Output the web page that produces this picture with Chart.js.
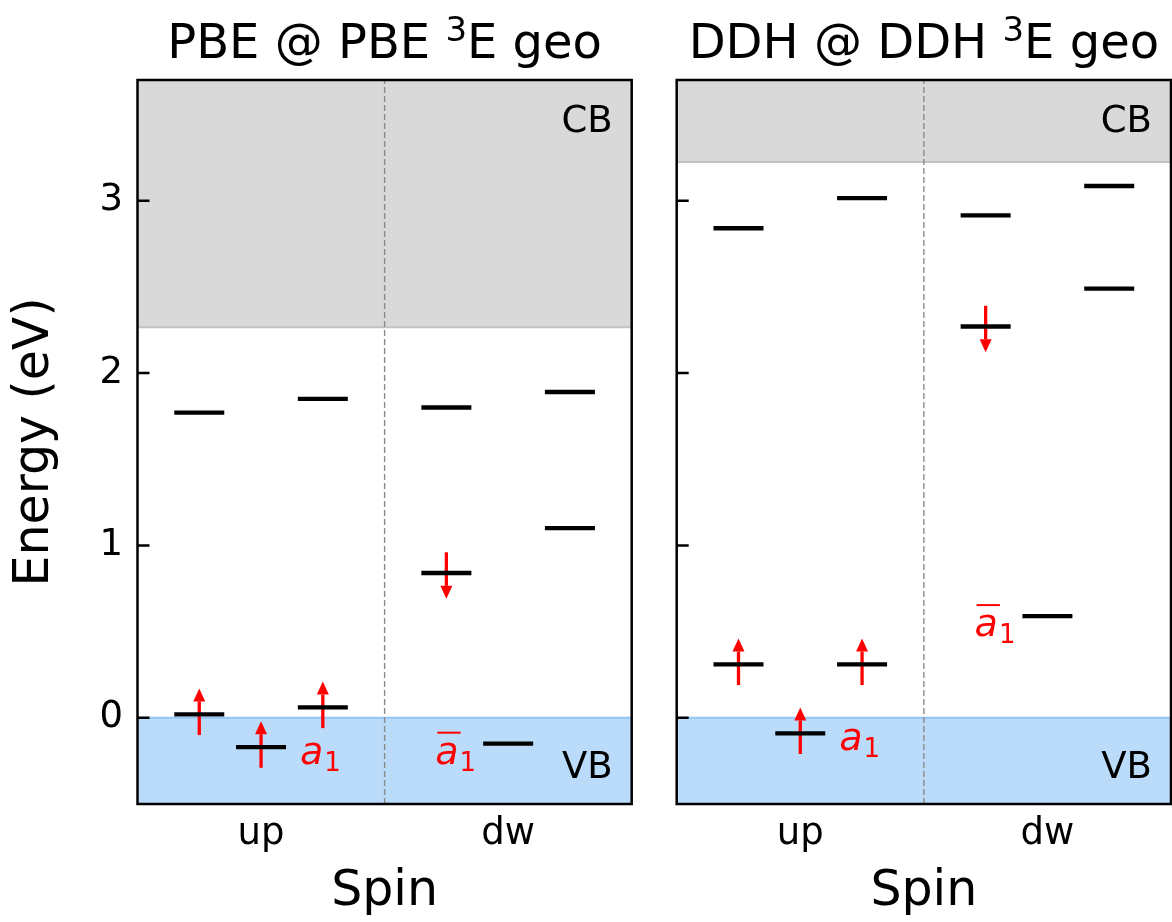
<!DOCTYPE html>
<html>
<head>
<meta charset="utf-8">
<script src="https://cdn.jsdelivr.net/npm/chart.js@4.4.1/dist/chart.umd.min.js"></script>
<style>
  body { margin: 0; background: #fff; }
  #wrap { position: relative; width: 1172px; height: 922px; }
  #pbe { position: absolute; left: 0; top: 0; }
  #ddh { position: absolute; left: 640px; top: 0; }
</style>
</head>
<body>
<div id="wrap">
  <canvas id="pbe" width="640" height="922"></canvas>
  <canvas id="ddh" width="532" height="922"></canvas>
</div>
<script>
const channels = ['up', 'dw'];
const energyTicks = [0, 1, 2, 3];
const energyMin = -0.5;
const energyMax = 3.7;
const vbm = 0;

// PBE @ PBE 3E geometry: levels (eV) of the three orbitals in each spin channel
const pbeTitle = ['PBE @ PBE ', '3', 'E geo'];
const pbeUp = [[0.02, 1.77], [-0.17], [0.06, 1.85]];
const pbeDw = [[0.84, 1.80], [-0.15], [1.10, 1.89]];
const pbeUpOcc = [[0.02], [-0.17], [0.06]];
const pbeDwOcc = [[0.84], [], []];
const pbeCbm = 2.265;

// DDH @ DDH 3E geometry
const ddhTitle = ['DDH @ DDH ', '3', 'E geo'];
const ddhUp = [[0.31, 2.84], [-0.09], [0.31, 3.015]];
const ddhDw = [[2.27, 2.915], [0.59], [2.49, 3.085]];
const ddhUpOcc = [[0.31], [-0.09], [0.31]];
const ddhDwOcc = [[2.27], [], []];
const ddhCbm = 3.225;

Chart.defaults.font.family = '"DejaVu Sans"';
Chart.defaults.color = '#000';

// orbital i of channel c sits at c + (i+1)/4 on the 0..2 axis
function slotX(c, i) { return c + (i + 1) / 4; }

function toPoints(levels, c) {
  return levels.flatMap((es, i) => es.map(e => ({ x: slotX(c, i), y: e })));
}

function drawArrow(ctx, x, yTail, yTip) {
  const dir = yTip > yTail ? 1 : -1;
  const yBase = yTip - dir * 13;
  ctx.save();
  ctx.strokeStyle = '#ff0000';
  ctx.fillStyle = '#ff0000';
  ctx.lineWidth = 3.3;
  ctx.beginPath();
  ctx.moveTo(x, yTail);
  ctx.lineTo(x, yBase);
  ctx.stroke();
  ctx.beginPath();
  ctx.moveTo(x - 6, yBase);
  ctx.lineTo(x + 6, yBase);
  ctx.lineTo(x, yTip);
  ctx.closePath();
  ctx.fill();
  ctx.restore();
}

// italic a with subscript 1, optionally with a bar over the a
function drawOrbitalName(ctx, x, y, bar, align) {
  const aFont = 'italic 38px "DejaVu Sans"';
  const subFont = '26px "DejaVu Sans"';
  ctx.save();
  ctx.fillStyle = '#ff0000';
  ctx.textAlign = 'left';
  ctx.textBaseline = 'alphabetic';
  ctx.font = aFont;
  const aw = ctx.measureText('a').width;
  ctx.font = subFont;
  const sw = ctx.measureText('1').width;
  const x0 = align === 'right' ? x - aw - sw - 1 : x;
  ctx.font = aFont;
  ctx.fillText('a', x0, y);
  ctx.font = subFont;
  ctx.fillText('1', x0 + aw + 1, y + 7);
  if (bar) ctx.fillRect(x0 + 2, y - 32, aw, 2);
  ctx.restore();
}

// panel title with a superscript, centred over the plot area
function drawTitle(ctx, parts, cx, baseline) {
  const big = '48px "DejaVu Sans"', small = '34px "DejaVu Sans"';
  ctx.save();
  ctx.fillStyle = '#000';
  ctx.textAlign = 'left';
  ctx.textBaseline = 'alphabetic';
  ctx.font = big;
  const w0 = ctx.measureText(parts[0]).width;
  const w2 = ctx.measureText(parts[2]).width;
  ctx.font = small;
  const w1 = ctx.measureText(parts[1]).width;
  let x = cx - (w0 + w1 + w2) / 2;
  ctx.font = big;
  ctx.fillText(parts[0], x, baseline);
  x += w0;
  ctx.font = small;
  ctx.fillText(parts[1], x, baseline - 17);
  x += w1;
  ctx.font = big;
  ctx.fillText(parts[2], x, baseline);
  ctx.restore();
}

function makeDecor(title, up, dw, upOcc, dwOcc) {
  return {
    id: 'levelDecor',
    afterDatasetDraw(chart, args) {
      // spin arrows go above the bands but under the level bars
      if (chart.data.datasets[args.index].label !== 'divider') return;
      const xs = chart.scales.x, ys = chart.scales.y, ctx = chart.ctx;
      upOcc.forEach((es, i) => es.forEach(e => {
        drawArrow(ctx, xs.getPixelForValue(slotX(0, i)), ys.getPixelForValue(e - 0.12), ys.getPixelForValue(e + 0.15));
      }));
      dwOcc.forEach((es, i) => es.forEach(e => {
        drawArrow(ctx, xs.getPixelForValue(slotX(1, i)), ys.getPixelForValue(e + 0.12), ys.getPixelForValue(e - 0.15));
      }));
    },
    afterDatasetsDraw(chart) {
      const xs = chart.scales.x, ys = chart.scales.y, ctx = chart.ctx;
      const a = chart.chartArea;
      drawOrbitalName(ctx, xs.getPixelForValue(slotX(0, 1)) + 39, ys.getPixelForValue(up[1][0]) + 17, false, 'left');
      drawOrbitalName(ctx, xs.getPixelForValue(slotX(1, 1)) - 32, ys.getPixelForValue(dw[1][0]) + 20, true, 'right');
      drawTitle(ctx, title, (a.left + a.right) / 2, 58);

      ctx.save();
      ctx.fillStyle = '#000';
      ctx.font = '37px "DejaVu Sans"';
      ctx.textAlign = 'right';
      ctx.textBaseline = 'alphabetic';
      ctx.fillText('CB', a.right - 19, a.top + 52);
      ctx.fillText('VB', a.right - 19, a.bottom - 26);

      // frame and inward ticks
      ctx.strokeStyle = '#000';
      ctx.lineWidth = 2.5;
      ctx.strokeRect(a.left, a.top, a.right - a.left, a.bottom - a.top);
      ctx.beginPath();
      energyTicks.forEach(v => {
        const y = ys.getPixelForValue(v);
        ctx.moveTo(a.left, y);
        ctx.lineTo(a.left + 12, y);
      });
      ctx.stroke();
      ctx.restore();
    }
  };
}

function makePanel(id, title, up, dw, upOcc, dwOcc, cbm, first) {
  const yWidth = first ? 137.5 : 36.7;
  new Chart(document.getElementById(id), {
    type: 'line',
    data: {
      datasets: [
        {
          label: 'VB', order: 3,
          data: [{ x: 0, y: vbm }, { x: 2, y: vbm }],
          fill: 'start', backgroundColor: '#badcfa',
          borderColor: '#93c6f6', borderWidth: 2, pointRadius: 0
        },
        {
          label: 'CB', order: 3,
          data: [{ x: 0, y: cbm }, { x: 2, y: cbm }],
          fill: 'end', backgroundColor: '#d9d9d9',
          borderColor: '#c2c2c2', borderWidth: 2, pointRadius: 0
        },
        {
          label: 'divider', order: 2,
          data: [{ x: 1, y: energyMin }, { x: 1, y: energyMax }],
          borderColor: '#8a8a8a', borderWidth: 1.4, borderDash: [6, 3],
          pointRadius: 0, fill: false
        },
        {
          label: 'levels', order: 1,
          data: toPoints(up, 0).concat(toPoints(dw, 1)),
          showLine: false,
          pointStyle: 'line', pointRadius: 25, pointHoverRadius: 25,
          pointBorderColor: '#000', pointBorderWidth: 4.3
        }
      ]
    },
    options: {
      responsive: false,
      animation: false,
      events: [],
      layout: {
        autoPadding: false,
        padding: { left: 0, right: first ? 8.3 : 1, top: 80, bottom: 0 }
      },
      plugins: {
        legend: { display: false },
        tooltip: { enabled: false },
        title: { display: false }
      },
      scales: {
        x: {
          type: 'linear',
          min: 0, max: 2,
          grid: { display: false, drawTicks: false },
          border: { display: false },
          afterBuildTicks: s => { s.ticks = channels.map((_, i) => ({ value: i + 0.5 })); },
          afterFit: s => { s.height = 118; s.paddingLeft = 0; s.paddingRight = 0; },
          ticks: {
            callback: (v, i) => channels[i],
            font: { size: 37 },
            padding: 8,
            maxRotation: 0,
            autoSkip: false
          },
          title: {
            display: true,
            text: 'Spin',
            font: { size: 49 },
            padding: { top: 0, bottom: 0 }
          }
        },
        y: {
          min: energyMin, max: energyMax,
          grid: { display: false, drawTicks: false },
          border: { display: false },
          afterBuildTicks: s => { s.ticks = energyTicks.map(v => ({ value: v })); },
          afterFit: s => { s.width = yWidth; s.paddingTop = 0; s.paddingBottom = 0; },
          ticks: {
            display: first,
            font: { size: 37 },
            padding: 14.5
          },
          title: {
            display: first,
            text: 'Energy (eV)',
            font: { size: 49 },
            padding: { top: 6, bottom: 0 }
          }
        }
      }
    },
    plugins: [makeDecor(title, up, dw, upOcc, dwOcc)]
  });
}

makePanel('pbe', pbeTitle, pbeUp, pbeDw, pbeUpOcc, pbeDwOcc, pbeCbm, true);
makePanel('ddh', ddhTitle, ddhUp, ddhDw, ddhUpOcc, ddhDwOcc, ddhCbm, false);
</script>
</body>
</html>
